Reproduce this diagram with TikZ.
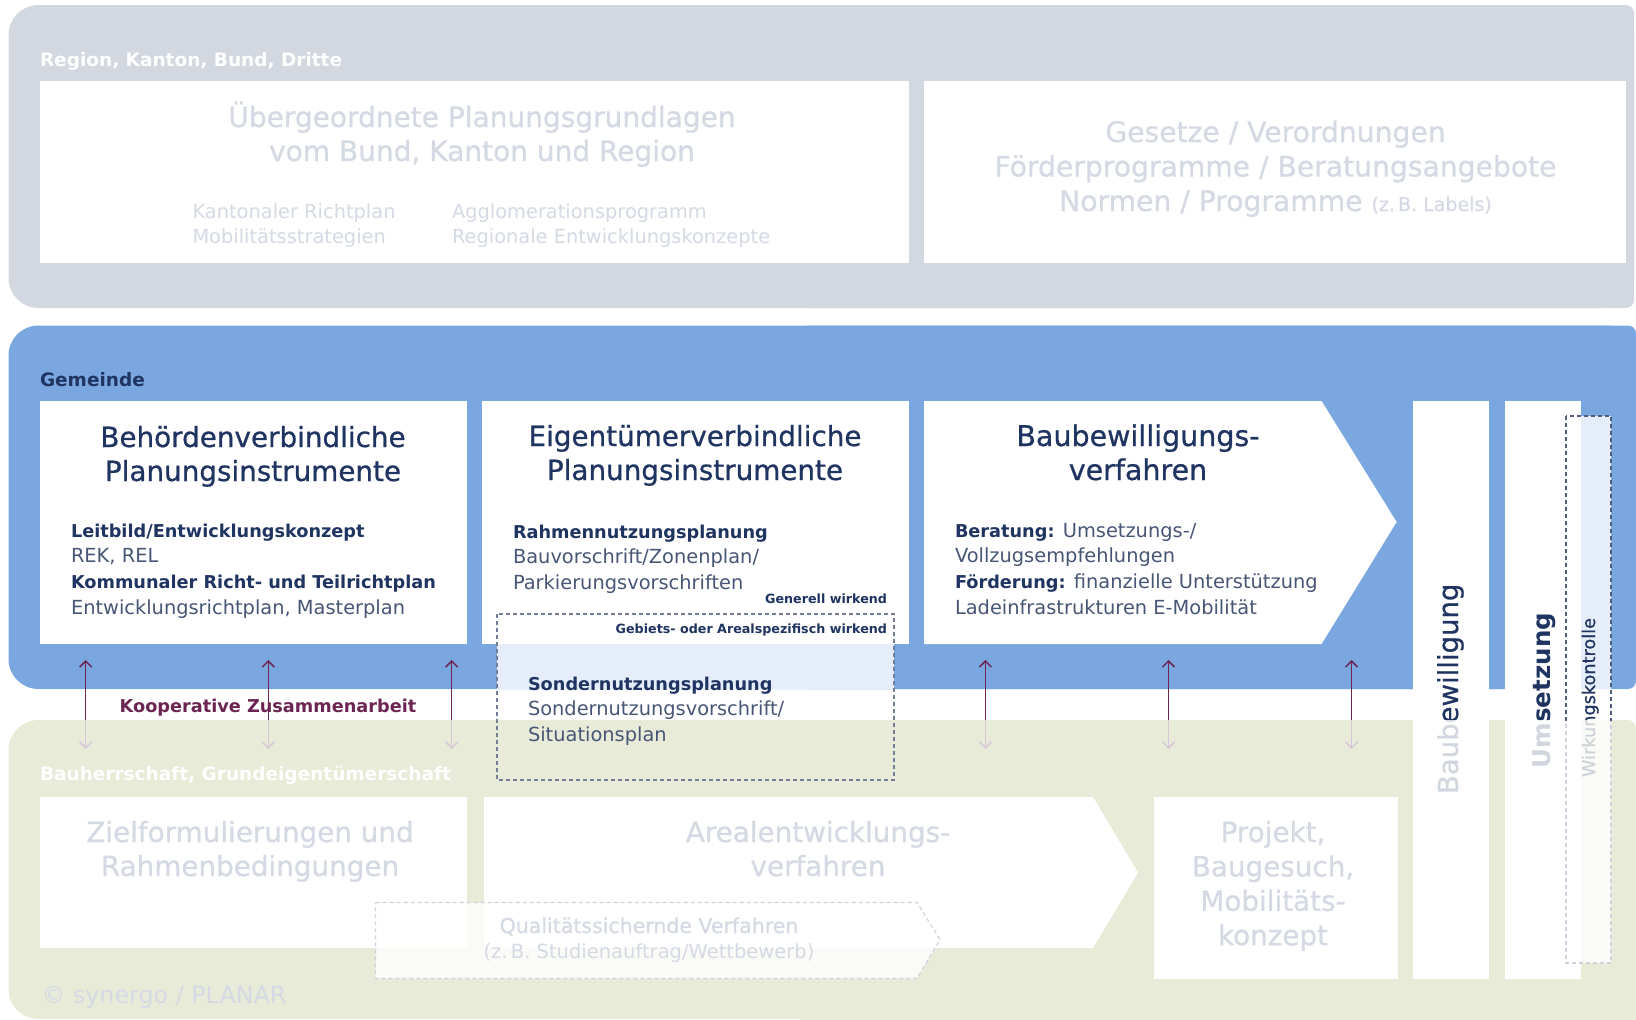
\documentclass[tikz,border=0pt]{standalone}
\usepackage{fontspec}
\setmainfont{DejaVu Sans}
\newfontfamily\titlefont[FakeBold=0.7]{DejaVu Sans}
\usetikzlibrary{arrows.meta}
\definecolor{greyband}{RGB}{211,216,224}
\definecolor{blueband}{RGB}{123,167,225}
\definecolor{greenband}{RGB}{232,235,216}
\definecolor{navy}{RGB}{31,52,97}
\definecolor{bodytxt}{RGB}{72,86,118}
\definecolor{fadetxt}{RGB}{212,217,228}
\definecolor{maroon}{RGB}{108,37,82}
\definecolor{fadearrow}{RGB}{214,198,214}
\definecolor{lightblue}{RGB}{228,237,249}
\definecolor{dashnavy}{RGB}{80,92,125}
\definecolor{dashfade}{RGB}{205,210,222}
\definecolor{wirkfill}{RGB}{250,251,247}
\newcommand\cstack[1]{\vtop{\halign{\hfil##\hfil\cr#1\crcr}}}
\newcommand\lstack[1]{\vtop{\halign{##\hfil\cr#1\crcr}}}
\newcommand\hd[1]{{\bfseries\fontsize{17.7}{26}\selectfont\color{navy}#1}}
\begin{document}
\begin{tikzpicture}[x=1pt,y=-1pt,
  every node/.style={inner sep=0pt, outer sep=0pt},
  seclbl/.style={font=\bfseries\fontsize{18.5}{22}\selectfont, text=white, anchor=base west},
  bigtitle/.style={font=\titlefont\fontsize{27.8}{34}\selectfont, text=navy, anchor=base},
  fadetitle/.style={bigtitle, text=fadetxt},
  bodytext/.style={font=\fontsize{19.4}{25.8}\selectfont, text=bodytxt, anchor=base west},
  fadebody/.style={bodytext, text=fadetxt},
  smalltag/.style={font=\bfseries\fontsize{12.7}{15}\selectfont, text=navy, anchor=base east},
  coltext/.style={font=\titlefont\fontsize{27.5}{30}\selectfont, text=navy, rotate=90, anchor=base west},
  uparr/.style={draw=maroon, line width=1.5pt, -{Straight Barb[length=6pt,width=12pt]}},
  dnarr/.style={draw=fadearrow, line width=1.5pt, -{Straight Barb[length=6pt,width=12pt]}},
  dashbox/.style={draw=dashnavy, line width=1.2pt, dash pattern=on 4pt off 3pt},
  fadedash/.style={draw=dashfade, line width=1.2pt, dash pattern=on 4pt off 3pt},
]
\useasboundingbox (0,0) rectangle (1636,1020);
% bands
\fill[greyband, rounded corners=30] (8.5,5) rectangle (1634,308);
\fill[greyband, rounded corners=8] (800,5) rectangle (1634,308);
\fill[blueband, rounded corners=30] (8.5,325.5) rectangle (1636,689);
\fill[blueband, rounded corners=8] (800,325.5) rectangle (1636,689);
\fill[greenband, rounded corners=30] (8.5,720) rectangle (1636,1019);
\fill[greenband, rounded corners=8] (800,720) rectangle (1636,1000);
\fill[greenband] (800,900) rectangle (1636,1020);
% white boxes
\fill[white] (40,81) rectangle (909,263);
\fill[white] (924,81) rectangle (1626,263);
\fill[white] (40,401) rectangle (466.5,644);
\fill[white] (482,401) rectangle (909,644);
\fill[white] (924,401) -- (1321.5,401) -- (1396.6,522) -- (1321.5,644) -- (924,644) -- cycle;
\fill[white] (1413,401) rectangle (1489,979);
\fill[white] (1505,401) rectangle (1581,979);
\fill[white] (40,797) rectangle (466.5,948);
\fill[white] (484,797) -- (1093,797) -- (1138,872.5) -- (1093,948) -- (484,948) -- cycle;
\fill[white] (1153.5,797) rectangle (1397.5,978.5);
% light fills
\fill[lightblue] (497,644) rectangle (894,689);
\fill[white, opacity=0.8] (1566,416) rectangle (1611,963);
\fill[white, opacity=0.8] (375.5,902.5) -- (917,902.5) -- (940,939.5) -- (917,978.5) -- (375.5,978.5) -- cycle;
% arrows
\foreach \i/\xx in {1/85.7,2/268.3,3/451.7,4/985.4,5/1168.5,6/1351.6}{
  \coordinate (am\i) at (\xx,720);
  \coordinate (at\i) at (\xx,660);
  \coordinate (ab\i) at (\xx,749);
  \draw[dnarr] (am\i) -- (ab\i);
  \draw[uparr] (am\i) -- (at\i);
}
% top region
\node[seclbl] (lblreg) at (40,66) {Region, Kanton, Bund, Dritte};
\node[fadetitle, font=\titlefont\fontsize{28}{34}\selectfont] (tueb) at (482,127) {\cstack{Übergeordnete Planungsgrundlagen\cr vom Bund, Kanton und Region}};
\node[fadebody] (tkant) at (192.5,218) {\lstack{Kantonaler Richtplan\cr Mobilitätsstrategien}};
\node[fadebody] (tagglo) at (452,218) {\lstack{Agglomerationsprogramm\cr Regionale Entwicklungskonzepte}};
\node[fadetitle, font=\titlefont\fontsize{28.2}{34.5}\selectfont] (tges) at (1275.5,142) {\cstack{Gesetze / Verordnungen\cr Förderprogramme / Beratungsangebote\cr Normen / Programme {\fontsize{19}{22}\selectfont (z.\,B. Labels)}}};
% Gemeinde
\node[seclbl, text=navy] (lblgem) at (40,386) {Gemeinde};
\node[bigtitle] (tb1) at (253,447) {\cstack{Behördenverbindliche\cr Planungsinstrumente}};
\node[bodytext] (b1body) at (71,537) {\lstack{\hd{Leitbild/Entwicklungskonzept}\cr REK, REL\cr \hd{Kommunaler Richt- und Teilrichtplan}\cr Entwicklungsrichtplan, Masterplan}};
\node[bigtitle] (tb2) at (695,446) {\cstack{Eigentümerverbindliche\cr Planungsinstrumente}};
\node[bodytext] (b2body) at (513,538) {\lstack{\hd{Rahmennutzungsplanung}\cr Bauvorschrift/Zonenplan/\cr Parkierungsvorschriften}};
\node[smalltag] (tgen) at (887,603) {Generell wirkend};
\node[smalltag] (tgeb) at (887,633) {Gebiets- oder Arealspezifisch wirkend};
\node[bodytext] (sonder) at (528,690) {\lstack{\hd{Sondernutzungsplanung}\cr Sondernutzungsvorschrift/\cr Situationsplan}};
\node[bigtitle, font=\titlefont\fontsize{28.5}{34}\selectfont] (tb3) at (1138,446) {\cstack{Baubewilligungs-\cr verfahren}};
\node[bodytext] (b3body) at (955,537) {\lstack{\hd{Beratung:} Umsetzungs-/\cr Vollzugsempfehlungen\cr \hd{Förderung:} finanzielle Unterstützung\cr Ladeinfrastrukturen E-Mobilität}};
\node[anchor=base, font=\bfseries\fontsize{17.7}{22}\selectfont, text=maroon] (koop) at (268,712) {Kooperative Zusammenarbeit};
% columns
\node[coltext] (cbau) at (1458,794) {Baubewilligung};
\node[coltext, font=\bfseries\fontsize{24.5}{30}\selectfont] (cums) at (1550,768) {Umsetzung};
\node[coltext, font=\titlefont\fontsize{17.7}{20}\selectfont] (cwirk) at (1595,777) {Wirkungskontrolle};
% green region
\node[seclbl] (lblbau) at (40,780) {Bauherrschaft, Grundeigentümerschaft};
\node[fadetitle] (tg1) at (250,842) {\cstack{Zielformulierungen und\cr Rahmenbedingungen}};
\node[fadetitle] (tg2) at (818,842) {\cstack{Arealentwicklungs-\cr verfahren}};
\node[fadetitle, font=\titlefont\fontsize{27.8}{34.4}\selectfont] (tg3) at (1273,842) {\cstack{Projekt,\cr Baugesuch,\cr Mobilitäts-\cr konzept}};
\node[fadetitle, font=\fontsize{19.5}{25}\selectfont] (tq) at (649,958) {(z.\,B. Studienauftrag/Wettbewerb)};
\node[fadetitle, font=\titlefont\fontsize{20.5}{25}\selectfont] (tq1) at (649,933) {Qualitätssichernde Verfahren};
\node[anchor=base west, font=\fontsize{23.8}{26}\selectfont, text=fadetxt] (copy) at (41.6,1003) {© synergo / PLANAR};
% fades
\fill[white, opacity=0.8] (1413,720) rectangle (1489,979);
\fill[white, opacity=0.8] (1505,720) rectangle (1581,979);
\fill[wirkfill, opacity=0.8] (1581,720) rectangle (1611,963);
% dashed outlines
\draw[dashbox, draw=dashnavy!80] (497,614) rectangle (894,780);
\draw[fadedash] (1566,416) rectangle (1611,963);
\begin{scope}
  \clip (1500,380) rectangle (1636,720);
  \draw[dashbox] (1566,416) rectangle (1611,963);
\end{scope}
\draw[fadedash] (375.5,902.5) -- (917,902.5) -- (940,939.5) -- (917,978.5) -- (375.5,978.5) -- cycle;
\end{tikzpicture}
\end{document}
